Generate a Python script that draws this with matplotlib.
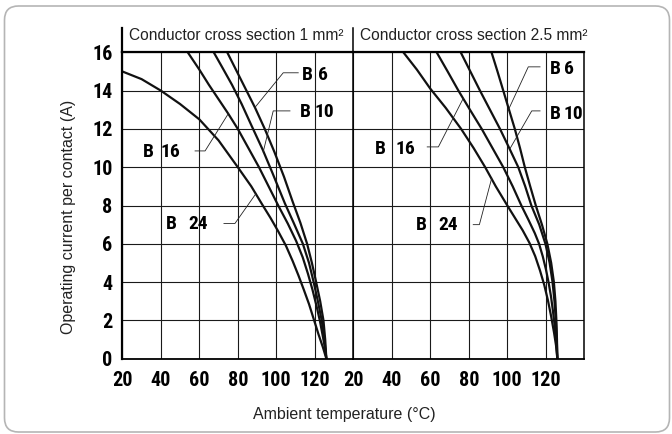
import matplotlib.pyplot as plt
from matplotlib.patches import FancyBboxPatch

plt.rcParams['font.family'] = ['Liberation Sans', 'DejaVu Sans']
NARROW = ['Roboto Condensed', 'Archivo Narrow', 'DejaVu Sans']

# ambient temperature (°C) vs operating current per contact (A)
# conductor cross section 1 mm²
t1_b24 = [20, 30, 40, 50, 60, 70, 80, 87, 93, 97, 101, 105, 108.5, 111.5, 114.3, 117, 119.5, 122, 124.2, 126]
i1_b24 = [15, 14.6, 14, 13.3, 12.5, 11.4, 10, 9, 8, 7.35, 6.65, 5.9, 5.1, 4.35, 3.6, 2.85, 2.05, 1.25, 0.6, 0]
t1_b16 = [54, 60, 65, 70, 75, 80, 85.5, 91, 96, 101, 106, 110.3, 113.7, 116.4, 118.8, 120.9, 122.7, 124.3, 125.4, 126]
i1_b16 = [16, 15.1, 14.3, 13.55, 12.8, 12, 11, 10, 9, 8, 7.05, 6.15, 5.3, 4.45, 3.6, 2.75, 1.95, 1.1, 0.5, 0]
t1_b10 = [67.5, 72, 77, 82, 87, 93, 98, 104.5, 109, 113.8, 117, 119.4, 121.6, 123.6, 125, 126]
i1_b10 = [16, 15.2, 14.3, 13.3, 12.2, 10.9, 9.7, 8.1, 7.1, 6, 5, 4, 3, 2, 1, 0]
t1_b6 = [74.5, 79, 84, 89, 94, 99, 104, 108.5, 112.5, 116, 118.5, 120.7, 122.8, 124.5, 125.4, 126]
i1_b6 = [16, 15.1, 14.1, 13.1, 12.0, 10.8, 9.5, 8.2, 7.1, 6, 5, 4, 3, 2, 1, 0]

# conductor cross section 2.5 mm²
t2_b24 = [46, 53, 60, 68, 76, 82.5, 88.5, 94, 100, 104, 108, 111.5, 114.5, 117, 119.2, 121.1, 122.8, 124.3, 125.3, 126]
i2_b24 = [16, 15.1, 14.1, 13.1, 12, 11, 10, 9, 8, 7.35, 6.7, 6.05, 5.35, 4.6, 3.85, 3.05, 2.2, 1.35, 0.7, 0]
t2_b16 = [63.3, 69, 74.6, 80.6, 86.7, 92.3, 97.9, 102.8, 107.3, 111, 114.3, 116.5, 118.4, 120.1, 121.5, 122.7, 123.7, 124.6, 125.4, 126]
i2_b16 = [16, 15, 14, 13, 12, 11, 10, 9, 8, 7.25, 6.55, 6.0, 5.35, 4.65, 3.95, 3.25, 2.5, 1.75, 0.9, 0]
t2_b10 = [75.8, 80.8, 85.8, 91, 96.2, 101, 105.7, 109.3, 112.5, 116.6, 119.8, 122, 123.5, 124.5, 125.2, 125.7, 126]
i2_b10 = [16, 15, 14, 13, 12, 11, 10, 9, 8, 7, 6, 5, 4, 3, 2, 1, 0]
t2_b6 = [91.8, 94.9, 97.9, 100.9, 103.9, 106.6, 109.1, 111.9, 114.8, 118, 120.8, 122.8, 124.2, 125, 125.5, 125.8, 126]
i2_b6 = [16, 15, 14, 13, 12, 11, 10, 9, 8, 7, 6, 5, 4, 3, 2, 1, 0]

titles = ["Conductor cross section 1 mm²", "Conductor cross section 2.5 mm²"]
xticks = [20, 40, 60, 80, 100, 120]
yticks = [0, 2, 4, 6, 8, 10, 12, 14, 16]

# label placement: (B x, number x, y, number text)
labels1 = [(113.2, 121.8, 14.8, "6"), (112.2, 120.1, 12.88, "10"),
           (30.9, 39.6, 10.8, "16"), (42.7, 54.3, 7.02, "24")]
labels2 = [(122.2, 129.5, 15.12, "6"), (122.2, 129.1, 12.8, "10"),
           (31.3, 41.7, 10.97, "16"), (52.6, 64.2, 6.97, "24")]
leaders1 = [([111.4, 103.6, 88.9], [14.93, 14.93, 13.12]),
            ([107.1, 98.4, 93.2], [12.94, 12.94, 10.8]),
            ([57.8, 63, 75.1], [10.85, 10.85, 12.8]),
            ([72.8, 78.5, 89.5], [7.06, 7.06, 8.63])]
leaders2 = [([117, 110.9, 100.5], [15.24, 15.24, 12.98]),
            ([117, 112.7, 101.4], [12.94, 12.94, 10.97]),
            ([58.4, 64.2, 77.1], [11.06, 11.06, 13.59]),
            ([82.3, 85.5, 91.9], [7.0, 7.0, 9.43])]

W, H = 672, 434
fig = plt.figure(figsize=(W / 100, H / 100), dpi=100)
fig.patches.append(FancyBboxPatch((4.5, 2), 665, 426, boxstyle="round,pad=0,rounding_size=14",
                                  transform=None, fc='none', ec='#b5b5b5', lw=1.2))

bottom = 1 - 358.7 / H
height = 306.4 / H
ax1 = fig.add_axes([122.3 / W, bottom, 231 / W, height])
ax2 = fig.add_axes([353.3 / W, bottom, 231 / W, height])

curves = [
    (ax1, [(t1_b24, i1_b24), (t1_b16, i1_b16), (t1_b10, i1_b10), (t1_b6, i1_b6)], labels1, leaders1),
    (ax2, [(t2_b24, i2_b24), (t2_b16, i2_b16), (t2_b10, i2_b10), (t2_b6, i2_b6)], labels2, leaders2),
]

for k, (ax, series, labs, leads) in enumerate(curves):
    ax.set_xlim(20, 140)
    ax.set_ylim(0, 16)
    ax.set_xticks(xticks)
    ax.set_yticks(yticks)
    ax.grid(True, color='#1a1a1a', lw=0.8)
    ax.set_axisbelow(True)
    for t, i in series:
        ax.plot(t, i, color='#111111', lw=1.6, solid_joinstyle='round')
    for lx, ly in leads:
        ax.plot(lx, ly, color='#222222', lw=0.6)
    for bx, nx, y, num in labs:
        ax.text(bx, y, "B", ha='left', va='center', fontsize=14, fontweight='bold', family=NARROW)
        ax.text(nx, y, num, ha='left', va='center', fontsize=14, fontweight='bold', family=NARROW)
    ax.text(23.6, 16.86, titles[k], ha='left', va='center', fontsize=11.2, color='#222222')
    ax.spines['top'].set_linewidth(1.6)
    ax.spines['bottom'].set_linewidth(1.3)
    ax.spines['right'].set_visible(False)
    ax.tick_params(length=0, labelsize=14.5)
    ax.tick_params(axis='x', pad=9)
    for lab in ax.get_xticklabels() + ax.get_yticklabels():
        lab.set_fontfamily(NARROW)
        lab.set_fontweight('bold')

ax1.spines['left'].set_linewidth(1.6)
ax2.spines['left'].set_linewidth(1.1)
ax2.spines['right'].set_visible(True)
ax2.spines['right'].set_linewidth(1.1)
ax2.tick_params(labelleft=False)
ax1.tick_params(axis='y', pad=7)

# header separators
ax1.plot([20, 20], [16, 17.26], color='k', lw=1.6, clip_on=False)
ax2.plot([20, 20], [16, 17.26], color='k', lw=1.1, clip_on=False)

fig.text(68.6 / W, 0.5007, "Operating current per contact (A)", rotation=90,
         ha='center', va='center', fontsize=11.5, color='#222222')
fig.text(344.5 / W, 1 - 414 / H, "Ambient temperature (°C)",
         ha='center', va='center', fontsize=11.5, color='#222222')

fig.savefig('out.png', dpi=100)
